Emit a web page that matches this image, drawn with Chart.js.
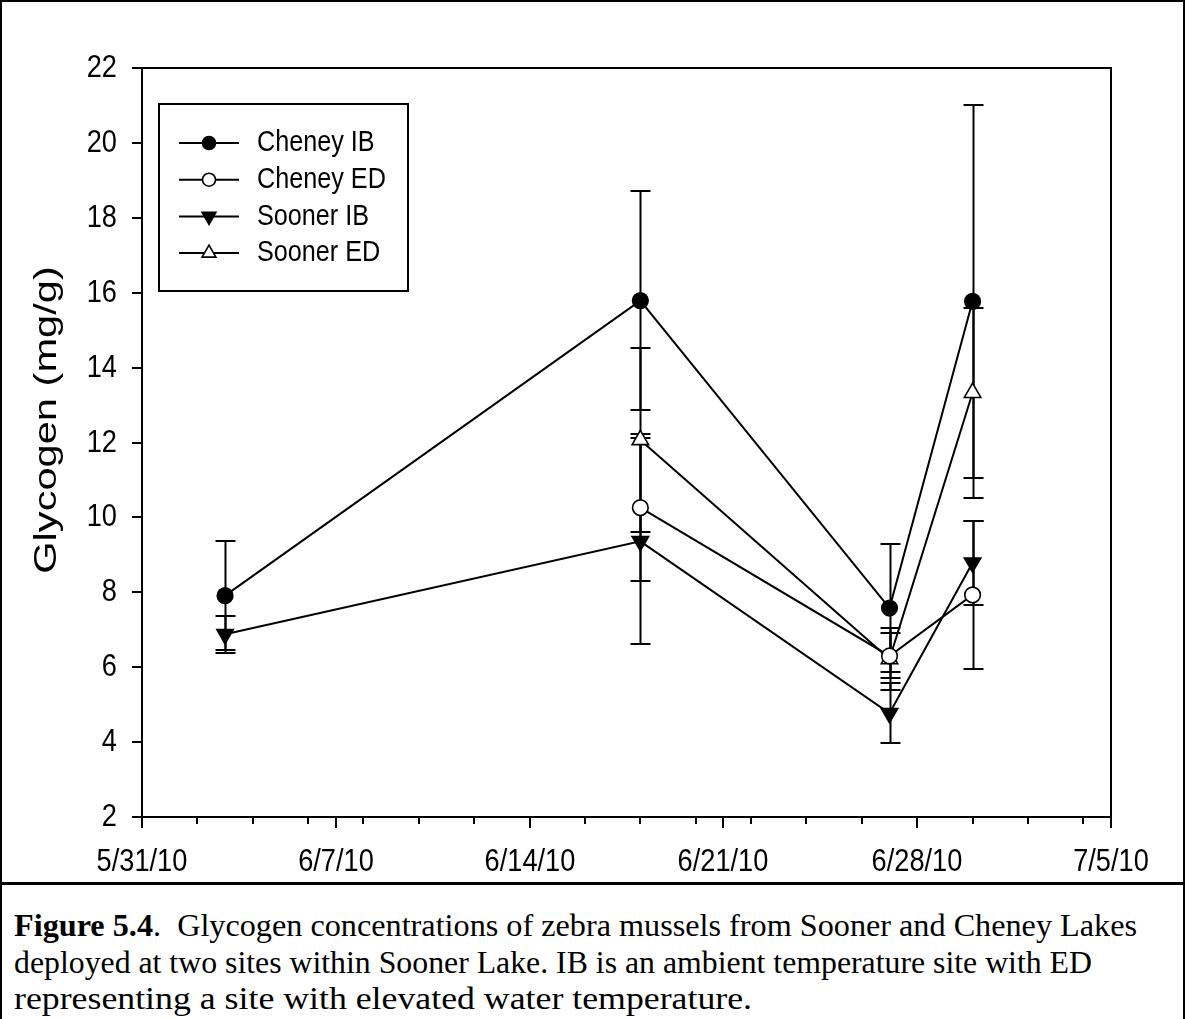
<!DOCTYPE html>
<html>
<head>
<meta charset="utf-8">
<script src="https://cdn.jsdelivr.net/npm/chart.js@4.4.1/dist/chart.umd.min.js"></script>
<style>
  html, body { margin: 0; padding: 0; background: #fff; }
  #page { position: relative; width: 1185px; height: 1019px; overflow: hidden; background: #fff; }
  #plot { position: absolute; left: 0; top: 0; }
  #frame { position: absolute; left: 0; top: 0; width: 1185px; height: 1019px; box-sizing: border-box;
           border-left: 2px solid #000; border-right: 2px solid #000; border-top: 2px solid #000; pointer-events: none; }
  #rule { position: absolute; left: 0; top: 882px; width: 1185px; height: 3px; background: #000; }
  #caption { position: absolute; left: 14px; top: 907px; font-family: 'Liberation Serif', 'Times New Roman', serif;
             font-size: 32px; line-height: 36.5px; color: #000; white-space: nowrap; }
  #caption span { display: inline-block; transform-origin: 0 50%; }
</style>
</head>
<body>
<div id="page">
  <canvas id="plot" width="1185" height="882"></canvas>
  <div id="rule"></div>
  <div id="caption">
    <div><span data-w="1123"><b>Figure 5.4</b>.&nbsp; Glycogen concentrations of zebra mussels from Sooner and Cheney Lakes</span></div>
    <div><span data-w="1078">deployed at two sites within Sooner Lake. IB is an ambient temperature site with ED</span></div>
    <div><span data-w="738">representing a site with elevated water temperature.</span></div>
  </div>
  <div id="frame"></div>
</div>
<script>
// Sampling dates and glycogen means (mg/g) with their error half-widths
const axisStartDate = '5/31/10';
const sampleDates = ['6/3/10', '6/18/10', '6/27/10', '6/30/10'];
const xTickLabels = ['5/31/10', '6/7/10', '6/14/10', '6/21/10', '6/28/10', '7/5/10'];
const yTickValues = [2, 4, 6, 8, 10, 12, 14, 16, 18, 20, 22];

const cheneyIB    = [7.91, 15.79, 7.58, 15.77];
const cheneyIBErr = [1.45, 2.92, 1.72, 5.25];
const cheneyED    = [null, 10.26, 6.30, 7.93];
const cheneyEDErr = [null, 1.97, 0.60, 1.98];
const soonerIB    = [6.88, 9.36, 4.77, 8.79];
const soonerIBErr = [0.50, 2.75, 0.80, 1.12];
const soonerED    = [null, 12.07, 6.22, 13.33];
const soonerEDErr = [null, 2.45, 0.83, 2.27];

const seriesNames = ['Cheney IB', 'Cheney ED', 'Sooner IB', 'Sooner ED'];

// Caption lines are fitted to their set widths
document.querySelectorAll('#caption span').forEach(sp => {
  const w = sp.getBoundingClientRect().width;
  sp.style.transform = 'scaleX(' + (Number(sp.dataset.w) / w) + ')';
});

function dayNumber(str) {
  const [m, d, y] = str.split('/').map(Number);
  return Date.UTC(2000 + y, m - 1, d) / 86400000;
}
const day0 = dayNumber(axisStartDate);
const dayOffset = s => dayNumber(s) - day0;

function points(values) {
  const out = [];
  values.forEach((v, i) => { if (v !== null) out.push({ x: dayOffset(sampleDates[i]), y: v }); });
  return out;
}

const markerStyles = [
  { pointStyle: 'circle',   pointRadius: 7.8, pointRotation: 0,   pointBackgroundColor: '#000' },
  { pointStyle: 'circle',   pointRadius: 7.8, pointRotation: 0,   pointBackgroundColor: '#fff' },
  { pointStyle: 'triangle', pointRadius: 9.5, pointRotation: 180, pointBackgroundColor: '#000' },
  { pointStyle: 'triangle', pointRadius: 9.5, pointRotation: 0,   pointBackgroundColor: '#fff' }
];
const seriesValues = [cheneyIB, cheneyED, soonerIB, soonerED];
const seriesErrors = [cheneyIBErr, cheneyEDErr, soonerIBErr, soonerEDErr];

const datasets = seriesNames.map((name, i) => Object.assign({
  label: name,
  data: points(seriesValues[i]),
  errors: seriesErrors[i].filter(e => e !== null),
  borderColor: '#000',
  borderWidth: 2,
  pointBorderColor: '#000',
  pointBorderWidth: 1.6,
  pointHoverRadius: 0,
  fill: false,
  tension: 0
}, markerStyles[i]));

const SANS = "'Liberation Sans', Arial, sans-serif";

function squeezedText(ctx, text, x, y, sx, align) {
  ctx.save();
  ctx.translate(x, y);
  ctx.scale(sx, 1);
  ctx.textAlign = align;
  ctx.textBaseline = 'middle';
  ctx.fillText(text, 0, 0);
  ctx.restore();
}

// Error bars sit under the markers and lines
const errorBars = {
  id: 'errorBars',
  beforeDatasetsDraw(chart) {
    const ctx = chart.ctx, xs = chart.scales.x, ys = chart.scales.y;
    ctx.save();
    ctx.strokeStyle = '#000';
    ctx.lineWidth = 2;
    chart.data.datasets.forEach(ds => {
      ds.data.forEach((p, j) => {
        const e = ds.errors[j];
        const px = Math.round(xs.getPixelForValue(p.x)) + 0.5;
        const yt = Math.round(ys.getPixelForValue(p.y + e));
        const yb = Math.round(ys.getPixelForValue(p.y - e));
        ctx.beginPath();
        ctx.moveTo(px, yt); ctx.lineTo(px, yb);
        ctx.moveTo(px - 10, yt); ctx.lineTo(px + 10, yt);
        ctx.moveTo(px - 10, yb); ctx.lineTo(px + 10, yb);
        ctx.stroke();
      });
    });
    ctx.restore();
  }
};

// Axis frame, tick marks, tick labels, axis title and the boxed legend
const frameAndLabels = {
  id: 'frameAndLabels',
  afterDraw(chart) {
    const ctx = chart.ctx, xs = chart.scales.x, ys = chart.scales.y;
    const a = chart.chartArea;
    ctx.save();
    ctx.strokeStyle = '#000';
    ctx.fillStyle = '#000';
    ctx.lineWidth = 2;
    ctx.strokeRect(a.left, a.top, a.right - a.left, a.bottom - a.top);

    // y ticks
    ctx.font = '32px ' + SANS;
    yTickValues.forEach(v => {
      const py = Math.round(ys.getPixelForValue(v));
      ctx.beginPath(); ctx.moveTo(a.left - 10, py); ctx.lineTo(a.left, py); ctx.stroke();
      squeezedText(ctx, String(v), a.left - 25, py, 0.85, 'right');
    });

    // x minor ticks every two days, major ticks weekly with labels
    for (let d = xs.min; d <= xs.max; d += 2) {
      const px = Math.round(xs.getPixelForValue(d));
      ctx.beginPath(); ctx.moveTo(px, a.bottom); ctx.lineTo(px, a.bottom + 7); ctx.stroke();
    }
    xTickLabels.forEach(lbl => {
      const px = Math.round(xs.getPixelForValue(dayOffset(lbl)));
      ctx.beginPath(); ctx.moveTo(px, a.bottom); ctx.lineTo(px, a.bottom + 11); ctx.stroke();
      squeezedText(ctx, lbl, px, a.bottom + 45, 0.85, 'center');
    });

    // y axis title
    ctx.save();
    ctx.translate(47, 420);
    ctx.rotate(-Math.PI / 2);
    ctx.scale(1.3, 1);
    ctx.font = '32px ' + SANS;
    ctx.textAlign = 'center';
    ctx.textBaseline = 'middle';
    ctx.fillText('Glycogen (mg/g)', 0, 0);
    ctx.restore();

    // legend
    const box = { left: 159, top: 104, right: 408, bottom: 291 };
    ctx.lineWidth = 2;
    ctx.strokeRect(box.left, box.top, box.right - box.left, box.bottom - box.top);
    chart.data.datasets.forEach((ds, i) => {
      const ry = 143 + i * 36.7;
      ctx.strokeStyle = '#000';
      ctx.lineWidth = 2;
      ctx.beginPath(); ctx.moveTo(179, ry); ctx.lineTo(239, ry); ctx.stroke();
      ctx.fillStyle = ds.pointBackgroundColor;
      ctx.lineWidth = 1.6;
      Chart.helpers.drawPoint(ctx, {
        pointStyle: ds.pointStyle,
        rotation: ds.pointRotation,
        radius: ds.pointStyle === 'circle' ? 6.5 : 8,
        borderWidth: 1.6
      }, 209, ry);
      ctx.fillStyle = '#000';
      ctx.font = '30px ' + SANS;
      squeezedText(ctx, ds.label, 257, ry, 0.84, 'left');
    });
    ctx.restore();
  }
};

new Chart(document.getElementById('plot'), {
  type: 'line',
  data: { datasets },
  options: {
    responsive: false,
    animation: false,
    devicePixelRatio: 1,
    events: [],
    layout: { padding: { left: 0, right: 74, top: 68, bottom: 0 } },
    plugins: { legend: { display: false }, tooltip: { enabled: false } },
    scales: {
      x: {
        type: 'linear',
        min: 0, max: 35,
        grid: { display: false },
        border: { display: false },
        ticks: { display: false },
        afterFit: s => { s.height = 65; }
      },
      y: {
        type: 'linear',
        min: 2, max: 22,
        grid: { display: false },
        border: { display: false },
        ticks: { display: false },
        afterFit: s => { s.width = 142; }
      }
    }
  },
  plugins: [errorBars, frameAndLabels]
});
</script>
</body>
</html>
